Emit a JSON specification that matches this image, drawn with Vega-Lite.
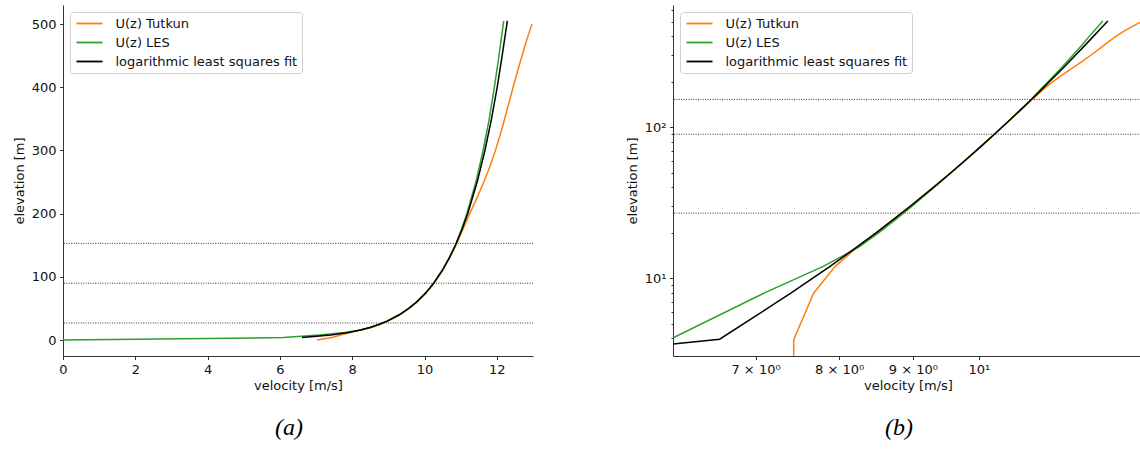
{
  "$schema": "https://vega.github.io/schema/vega-lite/v6.json",
  "background": "white",
  "padding": {"left": 13, "top": 3, "right": 0, "bottom": 0},
  "config": {
    "font": "DejaVu Sans",
    "view": {"stroke": null},
    "axis": {
      "grid": false,
      "domainColor": "#000",
      "domainWidth": 0.8,
      "tickColor": "#000",
      "tickWidth": 0.8,
      "tickSize": 3.5,
      "labelFont": "DejaVu Sans",
      "labelFontSize": 13,
      "labelColor": "#111",
      "labelPadding": 3.5,
      "titleFont": "DejaVu Sans",
      "titleFontSize": 13,
      "titleFontWeight": "normal",
      "titleColor": "#111",
      "labelFlush": false,
      "labelOverlap": false
    },
    "axisX": {"titlePadding": 3},
    "axisY": {"titlePadding": 5},
    "legend": {
      "orient": "top-left",
      "offset": 7,
      "padding": 4.5,
      "strokeColor": "#d0d0d0",
      "cornerRadius": 3,
      "fillColor": "#ffffff",
      "symbolType": "M-2.17,0H2.17",
      "symbolStrokeWidth": 1.8,
      "symbolSize": 144,
      "symbolOffset": 8,
      "labelFont": "DejaVu Sans",
      "labelFontSize": 13,
      "labelColor": "#111",
      "labelOffset": 19,
      "rowPadding": 5,
      "labelLimit": 400
    }
  },
  "datasets": {
    "levels": [{"z": 27}, {"z": 90}, {"z": 153}],
    "profiles": [
      {"s": "U(z) Tutkun", "u": 7.02, "z": 0, "only": "a"},
      {"s": "U(z) Tutkun", "u": 7.44, "z": 1.0, "only": "b"},
      {"s": "U(z) Tutkun", "u": 7.44, "z": 3.92, "only": ""},
      {"s": "U(z) Tutkun", "u": 7.68, "z": 7.96, "only": ""},
      {"s": "U(z) Tutkun", "u": 7.95, "z": 12.0, "only": ""},
      {"s": "U(z) Tutkun", "u": 8.23, "z": 16, "only": ""},
      {"s": "U(z) Tutkun", "u": 8.49, "z": 20, "only": ""},
      {"s": "U(z) Tutkun", "u": 8.75, "z": 25, "only": ""},
      {"s": "U(z) Tutkun", "u": 8.96, "z": 30, "only": ""},
      {"s": "U(z) Tutkun", "u": 9.30, "z": 40, "only": ""},
      {"s": "U(z) Tutkun", "u": 9.56, "z": 50, "only": ""},
      {"s": "U(z) Tutkun", "u": 9.78, "z": 60, "only": ""},
      {"s": "U(z) Tutkun", "u": 10.04, "z": 75, "only": ""},
      {"s": "U(z) Tutkun", "u": 10.25, "z": 90, "only": ""},
      {"s": "U(z) Tutkun", "u": 10.49, "z": 110, "only": ""},
      {"s": "U(z) Tutkun", "u": 10.69, "z": 130, "only": ""},
      {"s": "U(z) Tutkun", "u": 10.87, "z": 150, "only": ""},
      {"s": "U(z) Tutkun", "u": 11.06, "z": 175, "only": ""},
      {"s": "U(z) Tutkun", "u": 11.25, "z": 200, "only": ""},
      {"s": "U(z) Tutkun", "u": 11.45, "z": 225, "only": ""},
      {"s": "U(z) Tutkun", "u": 11.64, "z": 250, "only": ""},
      {"s": "U(z) Tutkun", "u": 11.81, "z": 275, "only": ""},
      {"s": "U(z) Tutkun", "u": 11.96, "z": 300, "only": ""},
      {"s": "U(z) Tutkun", "u": 12.13, "z": 332, "only": ""},
      {"s": "U(z) Tutkun", "u": 12.30, "z": 368, "only": ""},
      {"s": "U(z) Tutkun", "u": 12.45, "z": 400, "only": ""},
      {"s": "U(z) Tutkun", "u": 12.62, "z": 435, "only": ""},
      {"s": "U(z) Tutkun", "u": 12.80, "z": 470, "only": ""},
      {"s": "U(z) Tutkun", "u": 12.97, "z": 500, "only": ""},
      {"s": "U(z) LES", "u": 0, "z": 0, "only": "a"},
      {"s": "U(z) LES", "u": 6.1, "z": 3.92, "only": ""},
      {"s": "U(z) LES", "u": 7.1, "z": 8.0, "only": ""},
      {"s": "U(z) LES", "u": 7.8, "z": 12.0, "only": ""},
      {"s": "U(z) LES", "u": 8.25, "z": 16, "only": ""},
      {"s": "U(z) LES", "u": 8.52, "z": 20, "only": ""},
      {"s": "U(z) LES", "u": 8.78, "z": 25, "only": ""},
      {"s": "U(z) LES", "u": 8.99, "z": 30, "only": ""},
      {"s": "U(z) LES", "u": 9.31, "z": 40, "only": ""},
      {"s": "U(z) LES", "u": 9.57, "z": 50, "only": ""},
      {"s": "U(z) LES", "u": 9.78, "z": 60, "only": ""},
      {"s": "U(z) LES", "u": 10.04, "z": 75, "only": ""},
      {"s": "U(z) LES", "u": 10.25, "z": 90, "only": ""},
      {"s": "U(z) LES", "u": 10.49, "z": 110, "only": ""},
      {"s": "U(z) LES", "u": 10.68, "z": 130, "only": ""},
      {"s": "U(z) LES", "u": 10.85, "z": 150, "only": ""},
      {"s": "U(z) LES", "u": 11.02, "z": 175, "only": ""},
      {"s": "U(z) LES", "u": 11.17, "z": 200, "only": ""},
      {"s": "U(z) LES", "u": 11.42, "z": 250, "only": ""},
      {"s": "U(z) LES", "u": 11.62, "z": 300, "only": ""},
      {"s": "U(z) LES", "u": 11.79, "z": 350, "only": ""},
      {"s": "U(z) LES", "u": 11.93, "z": 400, "only": ""},
      {"s": "U(z) LES", "u": 12.06, "z": 450, "only": ""},
      {"s": "U(z) LES", "u": 12.19, "z": 505, "only": ""},
      {"s": "logarithmic least squares fit", "u": 6.0, "z": 3.585, "only": "b"},
      {"s": "logarithmic least squares fit", "u": 6.61, "z": 3.95, "only": ""},
      {"s": "logarithmic least squares fit", "u": 7.41, "z": 8, "only": ""},
      {"s": "logarithmic least squares fit", "u": 7.885, "z": 12, "only": ""},
      {"s": "logarithmic least squares fit", "u": 8.223, "z": 16, "only": ""},
      {"s": "logarithmic least squares fit", "u": 8.486, "z": 20, "only": ""},
      {"s": "logarithmic least squares fit", "u": 8.748, "z": 25, "only": ""},
      {"s": "logarithmic least squares fit", "u": 8.962, "z": 30, "only": ""},
      {"s": "logarithmic least squares fit", "u": 9.301, "z": 40, "only": ""},
      {"s": "logarithmic least squares fit", "u": 9.563, "z": 50, "only": ""},
      {"s": "logarithmic least squares fit", "u": 9.777, "z": 60, "only": ""},
      {"s": "logarithmic least squares fit", "u": 10.04, "z": 75, "only": ""},
      {"s": "logarithmic least squares fit", "u": 10.254, "z": 90, "only": ""},
      {"s": "logarithmic least squares fit", "u": 10.49, "z": 110, "only": ""},
      {"s": "logarithmic least squares fit", "u": 10.687, "z": 130, "only": ""},
      {"s": "logarithmic least squares fit", "u": 10.855, "z": 150, "only": ""},
      {"s": "logarithmic least squares fit", "u": 11.036, "z": 175, "only": ""},
      {"s": "logarithmic least squares fit", "u": 11.193, "z": 200, "only": ""},
      {"s": "logarithmic least squares fit", "u": 11.456, "z": 250, "only": ""},
      {"s": "logarithmic least squares fit", "u": 11.67, "z": 300, "only": ""},
      {"s": "logarithmic least squares fit", "u": 11.852, "z": 350, "only": ""},
      {"s": "logarithmic least squares fit", "u": 12.009, "z": 400, "only": ""},
      {"s": "logarithmic least squares fit", "u": 12.147, "z": 450, "only": ""},
      {"s": "logarithmic least squares fit", "u": 12.29, "z": 505, "only": ""}
    ]
  },
  "spacing": 92,
  "resolve": {
    "scale": {"color": "independent", "x": "independent", "y": "independent"},
    "legend": {"color": "independent"}
  },
  "hconcat": [
    {
      "width": 470,
      "height": 351,
      "title": {"text": "(a)", "orient": "bottom", "anchor": "middle", "frame": "group", "font": "Liberation Serif", "fontStyle": "italic", "fontSize": 24, "fontWeight": "normal", "offset": 24, "dx": -9, "color": "#000"},
      "layer": [
        {
          "data": {"name": "levels"},
          "mark": {"type": "rule", "color": "#000", "strokeWidth": 0.8, "strokeDash": [1, 1.4]},
          "encoding": {
            "y": {"field": "z", "type": "quantitative", "scale": {"domain": [-25.25, 530.25], "nice": false, "zero": false}}
          }
        },
        {
          "data": {"name": "profiles"},
          "transform": [{"filter": "datum.only != 'b'"}],
          "mark": {"type": "line", "strokeWidth": 1.5, "clip": true},
          "encoding": {
            "x": {"field": "u", "type": "quantitative", "scale": {"domain": [0, 13], "nice": false, "zero": false}, "axis": {"title": "velocity [m/s]", "values": [0, 2, 4, 6, 8, 10, 12]}},
            "y": {"field": "z", "type": "quantitative", "scale": {"domain": [-25.25, 530.25], "nice": false, "zero": false}, "axis": {"title": "elevation [m]", "values": [0, 100, 200, 300, 400, 500]}},
            "color": {"field": "s", "type": "nominal", "scale": {"domain": ["U(z) Tutkun", "U(z) LES", "logarithmic least squares fit"], "range": ["#ff7f0e", "#2ca02c", "#000000"]}, "legend": {"title": null}},
            "order": {"field": "z", "type": "quantitative"}
          }
        }
      ]
    },
    {
      "width": 470,
      "height": 351,
      "title": {"text": "(b)", "orient": "bottom", "anchor": "middle", "frame": "group", "font": "Liberation Serif", "fontStyle": "italic", "fontSize": 24, "fontWeight": "normal", "offset": 24, "dx": -9, "color": "#000"},
      "layer": [
        {
          "data": {"name": "levels"},
          "mark": {"type": "rule", "color": "#000", "strokeWidth": 0.8, "strokeDash": [1, 1.4]},
          "encoding": {
            "y": {"field": "z", "type": "quantitative", "scale": {"type": "log", "domain": [3.058, 645.5], "nice": false}}
          }
        },
        {
          "data": {"name": "profiles"},
          "transform": [{"filter": "datum.only != 'a'"}],
          "mark": {"type": "line", "strokeWidth": 1.5, "clip": true},
          "encoding": {
            "x": {"field": "u", "type": "quantitative", "scale": {"type": "log", "domain": [6.135, 13.0], "nice": false}, "axis": {"title": "velocity [m/s]", "values": [7, 8, 9, 10], "labelExpr": "datum.value == 10 ? '10¹' : datum.value + ' × 10⁰'"}},
            "y": {"field": "z", "type": "quantitative", "scale": {"type": "log", "domain": [3.058, 645.5], "nice": false}, "axis": {"title": "elevation [m]", "values": [4, 5, 6, 7, 8, 9, 10, 20, 30, 40, 50, 60, 70, 80, 90, 100, 200, 300, 400, 500, 600], "labelExpr": "datum.value == 10 ? '10¹' : datum.value == 100 ? '10²' : ''", "tickSize": {"condition": {"test": "datum.value == 10 || datum.value == 100", "value": 3.5}, "value": 2}}},
            "color": {"field": "s", "type": "nominal", "scale": {"domain": ["U(z) Tutkun", "U(z) LES", "logarithmic least squares fit"], "range": ["#ff7f0e", "#2ca02c", "#000000"]}, "legend": {"title": null}},
            "order": {"field": "z", "type": "quantitative"}
          }
        }
      ]
    }
  ]
}
